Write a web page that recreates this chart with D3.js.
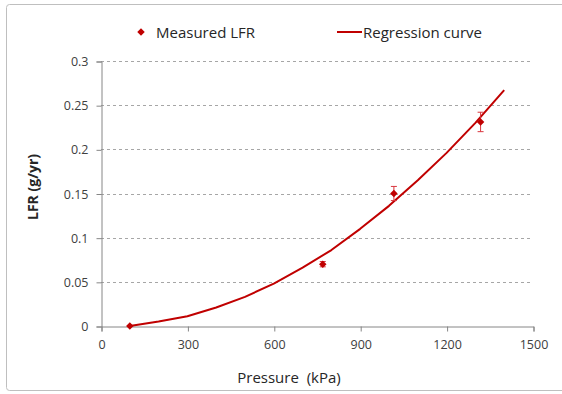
<!DOCTYPE html>
<html>
<head>
<meta charset="utf-8">
<script src="https://cdn.jsdelivr.net/npm/d3@7"></script>
<style>
  html, body { margin: 0; padding: 0; background: #fff; overflow: hidden; }
  svg { display: block; font-family: "Open Sans", "Liberation Sans", sans-serif; }
</style>
</head>
<body>
<svg id="chart" width="562" height="394"></svg>
<script>
// Measured leak flow rate (LFR) against pressure
const measuredPressure = [100, 770, 1017, 1318];
const measuredLFR = [0, 0.070, 0.150, 0.231];
const measuredErr = [0, 0.003, 0.008, 0.011];

// Fitted regression curve
const curvePressure = [100, 200, 300, 400, 500, 600, 700, 800, 900, 1000, 1100, 1200, 1300, 1400];
const curveLFR = [0, 0.005, 0.011, 0.021, 0.033, 0.048, 0.066, 0.086, 0.110, 0.136, 0.165, 0.196, 0.230, 0.267];

const xTicks = [0, 300, 600, 900, 1200, 1500];
const yTicks = [0, 0.05, 0.1, 0.15, 0.2, 0.25, 0.3];

const RED = "#C00000";
const svg = d3.select("#chart");

// outer chart frame (left, top and bottom edges; the right edge runs past the view)
svg.append("path")
  .attr("d", "M562,4.5 H9.5 Q6.5,4.5 6.5,7.5 V387.5 Q6.5,390.5 9.5,390.5 H562")
  .attr("fill", "none").attr("stroke", "#BFBFBF").attr("stroke-width", 1);

const x = d3.scaleLinear().domain([0, 1500]).range([101, 533]);
const y = d3.scaleLinear().domain([0, 0.3]).range([326, 61]);

// dashed horizontal gridlines
svg.append("g")
  .selectAll("line")
  .data(yTicks.filter(d => d > 0))
  .join("line")
  .attr("x1", x(0)).attr("x2", x(1500))
  .attr("y1", d => Math.round(y(d)) + 0.5).attr("y2", d => Math.round(y(d)) + 0.5)
  .attr("stroke", "#A6A6A6").attr("stroke-dasharray", "3,3").attr("stroke-width", 1);

// y axis
const yAxis = svg.append("g")
  .attr("transform", `translate(${x(0) + 0.5},0.5)`)
  .call(d3.axisLeft(y).tickValues(yTicks).tickFormat(d => d3.format("")(+d.toFixed(2))).tickSize(5).tickPadding(8));
yAxis.select(".domain").attr("stroke", "#868686");
yAxis.selectAll(".tick line").attr("stroke", "#868686");
yAxis.selectAll(".tick text").attr("fill", "#404040").attr("font-size", 12.5)
  .attr("font-family", "'Open Sans', sans-serif");

// x axis
const xAxis = svg.append("g")
  .attr("transform", `translate(0.5,${y(0) + 0.5})`)
  .call(d3.axisBottom(x).tickValues(xTicks).tickFormat(d3.format("d")).tickSize(5).tickPadding(9));
xAxis.select(".domain").attr("stroke", "#868686");
xAxis.selectAll(".tick line").attr("stroke", "#868686");
xAxis.selectAll(".tick text").attr("fill", "#404040").attr("font-size", 12.5)
  .attr("font-family", "'Open Sans', sans-serif");

// regression curve
const line = d3.line()
  .x((d, i) => x(curvePressure[i]))
  .y(d => y(d));
svg.append("path")
  .datum(curveLFR)
  .attr("d", line)
  .attr("fill", "none").attr("stroke", RED).attr("stroke-width", 2)
  .attr("stroke-linejoin", "round");

// error bars
const eb = svg.append("g").attr("stroke", "#D9363E").attr("stroke-width", 1);
measuredLFR.forEach((v, i) => {
  const e = measuredErr[i];
  if (!e) return;
  const cx = x(measuredPressure[i]);
  eb.append("line").attr("x1", cx).attr("x2", cx).attr("y1", y(v + e)).attr("y2", y(v - e));
  eb.append("line").attr("x1", cx - 3).attr("x2", cx + 3).attr("y1", y(v + e)).attr("y2", y(v + e));
  eb.append("line").attr("x1", cx - 3).attr("x2", cx + 3).attr("y1", y(v - e)).attr("y2", y(v - e));
});

// measured points (diamonds)
const diamond = d3.symbol().type(d3.symbolDiamond2).size(36);
svg.append("g")
  .selectAll("path")
  .data(measuredLFR)
  .join("path")
  .attr("d", diamond)
  .attr("transform", (d, i) => `translate(${x(measuredPressure[i])},${y(d)})`)
  .attr("fill", RED);

// legend
const leg = svg.append("g").attr("font-size", 15).attr("fill", "#262626");
leg.append("path")
  .attr("d", d3.symbol().type(d3.symbolDiamond2).size(36))
  .attr("transform", "translate(141,32)")
  .attr("fill", RED);
leg.append("text").attr("x", 156).attr("y", 37.5).text("Measured LFR");
leg.append("line")
  .attr("x1", 337).attr("x2", 362).attr("y1", 32).attr("y2", 32)
  .attr("stroke", RED).attr("stroke-width", 2);
leg.append("text").attr("x", 363).attr("y", 37.5).text("Regression curve");

// axis titles
svg.append("text")
  .attr("transform", "translate(38,187) rotate(-90)")
  .attr("text-anchor", "middle")
  .attr("font-size", 14).attr("font-weight", "bold").attr("fill", "#262626")
  .text("LFR (g/yr)");
svg.append("text")
  .attr("x", 289).attr("y", 383)
  .attr("text-anchor", "middle")
  .attr("font-size", 15).attr("fill", "#262626")
  .attr("xml:space", "preserve")
  .text("Pressure  (kPa)");
</script>
</body>
</html>
